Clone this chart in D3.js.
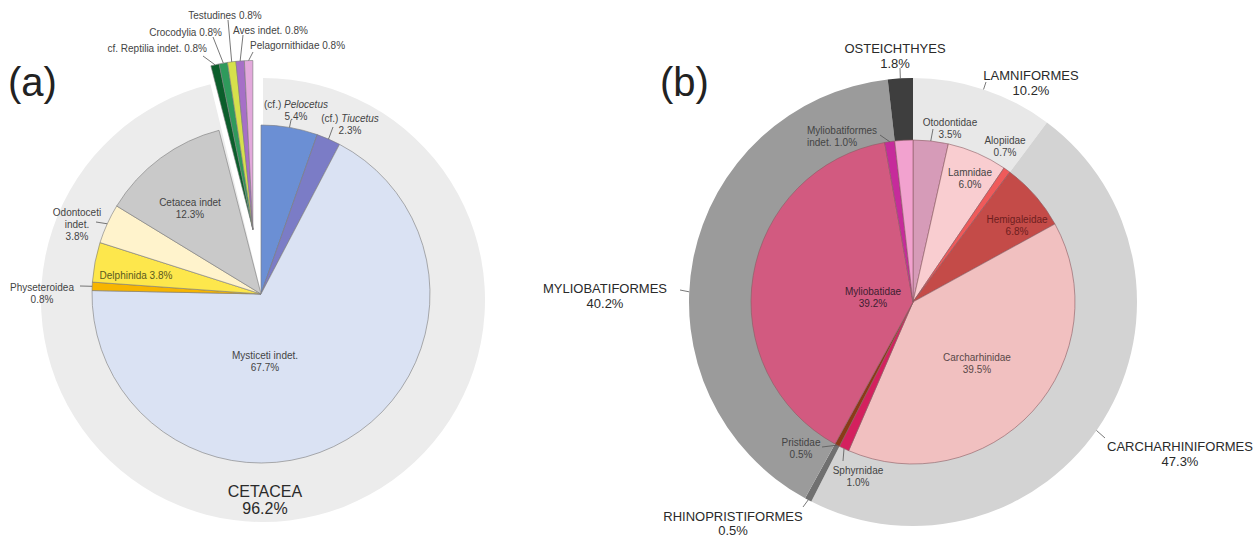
<!DOCTYPE html>
<html>
<head>
<meta charset="utf-8">
<script src="https://cdn.jsdelivr.net/npm/d3@7"></script>
<style>
  body { margin: 0; background: #fff; }
  text { font-family: "Liberation Sans", Arial, sans-serif; }
</style>
</head>
<body>
<svg id="chart" width="1260" height="539"></svg>
<script>
// ---- data (a) ----
const aNames = ["(cf.) Pelocetus", "(cf.) Tiucetus", "Mysticeti indet.", "Physeteroidea", "Delphinida",
  "Odontoceti indet.", "Cetacea indet", "cf. Reptilia indet.", "Crocodylia", "Testudines", "Aves indet.", "Pelagornithidae"];
const aValues = [5.4, 2.3, 67.7, 0.8, 3.8, 3.8, 12.3, 0.8, 0.8, 0.8, 0.8, 0.8];
const aGroups = ["CETACEA", "CETACEA", "CETACEA", "CETACEA", "CETACEA", "CETACEA", "CETACEA",
  "other", "other", "other", "other", "other"];
const aRingNames = ["CETACEA", "other"];
const aRingValues = [96.2, 3.8];

// ---- data (b) ----
const bNames = ["Otodontidae", "Lamnidae", "Alopiidae", "Hemigaleidae", "Carcharhinidae", "Sphyrnidae",
  "Pristidae", "Myliobatidae", "Myliobatiformes indet.", "Osteichthyes"];
const bValues = [3.5, 6.0, 0.7, 6.8, 39.5, 1.0, 0.5, 39.2, 1.0, 1.8];
const bRingNames = ["LAMNIFORMES", "CARCHARHINIFORMES", "RHINOPRISTIFORMES", "MYLIOBATIFORMES", "OSTEICHTHYES"];
const bRingValues = [10.2, 47.3, 0.5, 40.2, 1.8];

// ---- styles ----
const colors = {
  "(cf.) Pelocetus": "#6b8fd4", "(cf.) Tiucetus": "#7b7cc6", "Mysticeti indet.": "#dae2f3",
  "Physeteroidea": "#f7b500", "Delphinida": "#fde74c", "Odontoceti indet.": "#fff3cc",
  "Cetacea indet": "#c9c9c9", "cf. Reptilia indet.": "#0b5e2b", "Crocodylia": "#2f9a5c",
  "Testudines": "#d6e04c", "Aves indet.": "#a66fc7", "Pelagornithidae": "#e3a9dc",
  "CETACEA": "#ececec", "other": "none",
  "Otodontidae": "#d69bb8", "Lamnidae": "#f9cdd0", "Alopiidae": "#ef5a5a", "Hemigaleidae": "#c44b48",
  "Carcharhinidae": "#f1c0c0", "Sphyrnidae": "#d4205e", "Pristidae": "#8a3b16", "Myliobatidae": "#d25a80",
  "Myliobatiformes indet.": "#c62b9b", "Osteichthyes": "#f2a2cf",
  "LAMNIFORMES": "#e8e8e8", "CARCHARHINIFORMES": "#d3d3d3", "RHINOPRISTIFORMES": "#707070",
  "MYLIOBATIFORMES": "#9b9b9b", "OSTEICHTHYES": "#3e3e3e",
};

// label layout: text position, lines ($n name, $v value), optional leader end
const aLabels = {
  "(cf.) Pelocetus": { x: 296, y: 104, lead: [291, 120] },
  "(cf.) Tiucetus": { x: 350, y: 118, lead: [333, 127] },
  "Mysticeti indet.": { x: 265, y: 355 },
  "Physeteroidea": { x: 42, y: 287, lead: [80, 286] },
  "Delphinida": { x: 136, y: 275, lines: ["$n $v"], fill: "#5b5a1e" },
  "Odontoceti indet.": { x: 77, y: 212, lines: ["Odontoceti", "indet.", "$v"], lead: [96, 222] },
  "Cetacea indet": { x: 190, y: 202 },
  "cf. Reptilia indet.": { x: 207, y: 48, anchor: "end", lines: ["$n $v"], lead: [203, 56] },
  "Crocodylia": { x: 222, y: 32, anchor: "end", lines: ["$n $v"], lead: [213, 37] },
  "Testudines": { x: 225, y: 15, lines: ["$n $v"], lead: [228, 20] },
  "Aves indet.": { x: 233, y: 30, anchor: "start", lines: ["$n $v"], lead: [243, 35] },
  "Pelagornithidae": { x: 250, y: 45, anchor: "start", lines: ["$n $v"], lead: [253, 52] },
  "CETACEA": { x: 265, y: 491, big: 16, lh: 17 },
};
const bLabels = {
  "Otodontidae": { x: 950, y: 122, lead: [933, 129] },
  "Lamnidae": { x: 970, y: 172 },
  "Alopiidae": { x: 1005, y: 140 },
  "Hemigaleidae": { x: 1017, y: 219, fill: "#6e1e1e" },
  "Carcharhinidae": { x: 977, y: 357, fill: "#5a4848" },
  "Sphyrnidae": { x: 858, y: 470, lead: [843, 461] },
  "Pristidae": { x: 801, y: 442, lead: [822, 447] },
  "Myliobatidae": { x: 873, y: 291, fill: "#3d2030" },
  "Myliobatiformes indet.": { x: 807, y: 130, anchor: "start", lines: ["Myliobatiformes", "indet. $v"], lead: [880, 135] },
  "LAMNIFORMES": { x: 1031, y: 75, big: 13, lead: [986, 82] },
  "CARCHARHINIFORMES": { x: 1180, y: 446, big: 13, lead: [1105, 438], deg: 125 },
  "RHINOPRISTIFORMES": { x: 733, y: 516, big: 13, lh: 14, lead: [803, 507] },
  "MYLIOBATIFORMES": { x: 605, y: 288, big: 13, lead: [680, 290], deg: 272.6 },
  "OSTEICHTHYES": { x: 895, y: 48, big: 13, lead: [900, 68] },
};

const svg = d3.select("#chart");
const pie = d3.pie().sort(null).value((d) => d.v);
const polar = (cx, cy, r, a) => [cx + r * Math.sin(a), cy - r * Math.cos(a)];

const drawSlices = ({ g, slices, r0, r, stroke, sw, offset }) => {
  const arc = d3.arc().innerRadius(r0).outerRadius(r);
  g.selectAll(null)
    .data(slices)
    .enter()
    .append("path")
    .attr("d", arc)
    .attr("transform", (d) => {
      const o = offset ? offset(d) : [0, 0];
      return `translate(${o[0]},${o[1]})`;
    })
    .attr("fill", (d) => colors[d.data.n])
    .attr("stroke", (d) => (colors[d.data.n] === "none" ? "none" : stroke))
    .attr("stroke-width", sw);
};

const drawLabels = ({ layer, slices, labels, cx, cy, r, offset }) => {
  slices.forEach((d) => {
    const lab = labels[d.data.n];
    if (!lab) return;
    const size = lab.big || 10;
    const lh = lab.lh || (lab.big ? 15 : 12);
    const lines = (lab.lines || ["$n", "$v"]).map((s) =>
      s.replace("$n", d.data.n).replace("$v", `${d.data.v.toFixed(1)}%`)
    );
    if (lab.lead) {
      const a = lab.deg !== undefined ? (lab.deg * Math.PI) / 180 : (d.startAngle + d.endAngle) / 2;
      const o = offset ? offset(d) : [0, 0];
      const p = polar(cx + o[0], cy + o[1], r, a);
      layer.append("line")
        .attr("x1", p[0]).attr("y1", p[1])
        .attr("x2", lab.lead[0]).attr("y2", lab.lead[1])
        .attr("stroke", "#555").attr("stroke-width", 0.8);
    }
    const t = layer.append("text")
      .attr("text-anchor", lab.anchor || "middle")
      .attr("font-size", size)
      .attr("fill", lab.fill || (lab.big ? "#2a2a2a" : "#444"));
    lines.forEach((line, i) => {
      const ts = t.append("tspan").attr("x", lab.x).attr("y", lab.y + i * lh).attr("dy", "0.35em");
      if (line.startsWith("(cf.) ")) {
        ts.text("(cf.) ");
        t.append("tspan").attr("font-style", "italic").text(line.slice(6));
      } else {
        ts.text(line);
      }
    });
  });
};

// ---------- (a) ----------
{
  const cx = 261, cy = 294, r = 169;
  const ringC = [263, 300], R = 222;
  const ring = pie(aRingNames.map((n, i) => ({ n, v: aRingValues[i] })));
  const slices = pie(aNames.map((n, i) => ({ n, v: aValues[i], grp: aGroups[i] })));

  // explode the non-cetacean wedge along its bisector
  const other = slices.filter((d) => d.data.grp !== "CETACEA");
  const mid = (other[0].startAngle + other[other.length - 1].endAngle) / 2;
  const explode = [65 * Math.sin(mid), -65 * Math.cos(mid)];
  const offset = (d) => (d.data.grp === "CETACEA" ? [0, 0] : explode);

  drawSlices({ g: svg.append("g").attr("transform", `translate(${ringC})`), slices: ring, r0: 0, r: R, stroke: "none", sw: 0 });
  drawSlices({ g: svg.append("g").attr("transform", `translate(${cx},${cy})`), slices, r0: 0, r, stroke: "#7a7a7a", sw: 0.6, offset });

  const layer = svg.append("g");
  drawLabels({ layer, slices, labels: aLabels, cx, cy, r, offset });
  drawLabels({ layer, slices: ring, labels: aLabels, cx: ringC[0], cy: ringC[1], r: R });

  svg.append("text").attr("x", 8).attr("y", 96).attr("font-size", 40).attr("fill", "#222").text("(a)");
}

// ---------- (b) ----------
{
  const cx = 913, cy = 302, r = 162, R = 224;
  const ring = pie(bRingNames.map((n, i) => ({ n, v: bRingValues[i] })));
  const slices = pie(bNames.map((n, i) => ({ n, v: bValues[i] })));

  drawSlices({ g: svg.append("g").attr("transform", `translate(${cx},${cy})`), slices: ring, r0: r - 2, r: R, stroke: "none", sw: 0 });
  drawSlices({ g: svg.append("g").attr("transform", `translate(${cx},${cy})`), slices, r0: 0, r, stroke: "#8c5a62", sw: 0.6 });

  const layer = svg.append("g");
  drawLabels({ layer, slices, labels: bLabels, cx, cy, r });
  drawLabels({ layer, slices: ring, labels: bLabels, cx, cy, r: R });

  svg.append("text").attr("x", 660).attr("y", 96).attr("font-size", 40).attr("fill", "#222").text("(b)");
}
</script>
</body>
</html>
